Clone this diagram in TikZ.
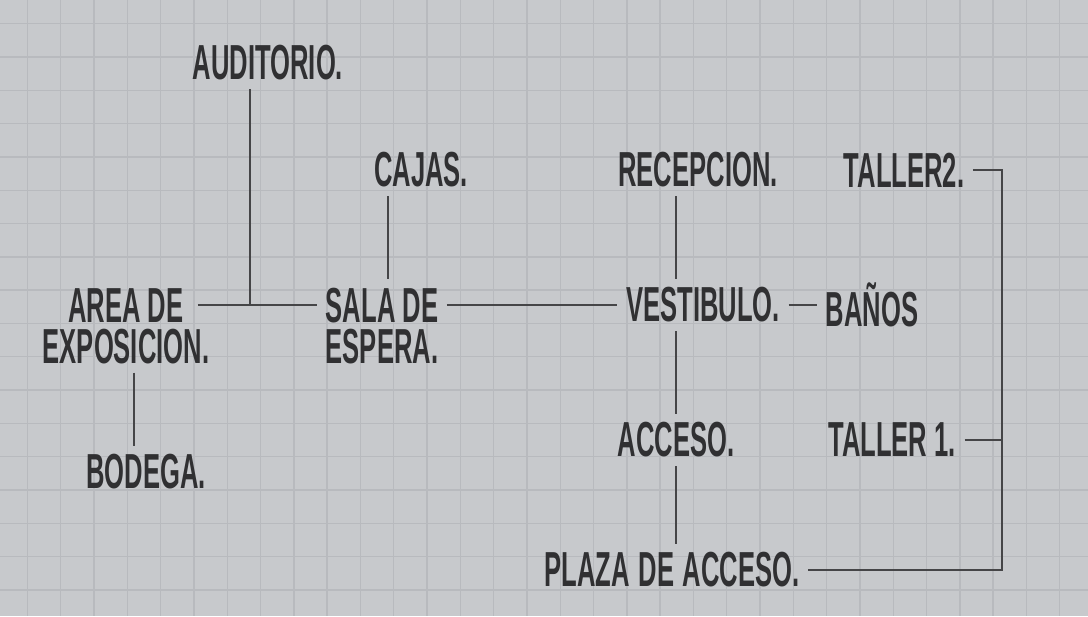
\documentclass[tikz,border=0pt]{standalone}
\usepackage{fontspec}
\newfontfamily\handfont[FakeStretch=0.52]{Liberation Sans}
\usetikzlibrary{positioning}
\definecolor{paper}{RGB}{199,201,204}
\definecolor{gridline}{RGB}{184,186,190}
\definecolor{ink}{RGB}{48,48,50}

\begin{document}
\begin{tikzpicture}[x=0.02cm, y=-0.02cm,
    room/.style={font=\handfont\bfseries\fontsize{28}{23.5}\selectfont, text=ink, inner sep=2pt, outer sep=3pt, align=center},
    link/.style={draw=ink!90, line width=0.8pt}]
  \useasboundingbox (0,0) rectangle (1088,616);
  \fill[paper] (0,0) rectangle (1088,616);
  \foreach \gx in {0,...,32} \draw[gridline, line width=0.8pt] (27.4+\gx*33.3,0) -- (27.4+\gx*33.3,616);
  \foreach \gy in {0,...,18} \draw[gridline, line width=0.8pt] (0,23.7+\gy*33.3) -- (1088,23.7+\gy*33.3);

  \node[room] (aud) at (268,63) {AUDITORIO.};
  \node[room] (cajas) at (421,170) {CAJAS.};
  \node[room] (recep) at (698,170) {RECEPCION.};
  \node[room] (taller2) at (904,170) {TALLER2.};
  \node[room] (area) at (126,326) {AREA DE\\EXPOSICION.};
  \node[room] (sala) at (382,326) {SALA DE\\ESPERA.};
  \node[room] (vest) at (703,305) {VESTIBULO.};
  \node[room] (banos) at (872,305) {BAÑOS};
  \node[room] (bodega) at (146,472) {BODEGA.};
  \node[room] (acceso) at (676,440) {ACCESO.};
  \node[room] (taller1) at (892,440) {TALLER 1.};
  \node[room] (plaza) at (672,570) {PLAZA\hspace{0.18em}DE\hspace{0.18em}ACCESO.};

  \coordinate (tee) at (250,305);
  \coordinate (rail) at (1002,167);

  \draw[link] ([xshift=-0.4cm]area.east |- vest) -- (sala.west |- vest);
  \draw[link] (aud.south -| tee) -- (tee);
  \draw[link] ([xshift=0.12cm]cajas.south -| sala.north) -- ([xshift=0.12cm]sala.north);
  \draw[link] (sala.east |- vest) -- (vest);
  \draw[link] (vest) -- (banos);
  \draw[link] (recep.south -| acceso) -- (vest.north -| acceso);
  \draw[link] (vest.south -| acceso) -- (acceso.north);
  \draw[link] (acceso.south) -- (plaza.north -| acceso);
  \draw[link] ([xshift=0.16cm]area.south) -- ([xshift=0.16cm]area.south |- bodega.north);
  \draw[link] (taller2) -- (taller2 -| rail) -- (rail |- plaza) -- (plaza);
  \draw[link] (taller1) -- (taller1 -| rail);
\end{tikzpicture}
\end{document}
